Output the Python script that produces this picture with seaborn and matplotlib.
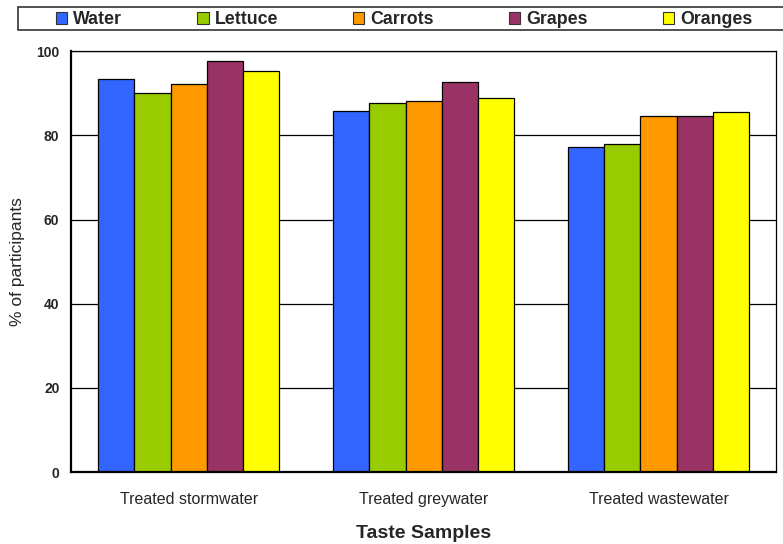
import pandas as pd
import numpy as np
import seaborn as sns
import matplotlib.pyplot as plt
from matplotlib.patches import Rectangle

# chart data
samples = ['Treated stormwater', 'Treated greywater', 'Treated wastewater']
foods = ['Water', 'Lettuce', 'Carrots', 'Grapes', 'Oranges']
water = [93.4, 85.8, 77.2]
lettuce = [90.1, 87.8, 77.9]
carrots = [92.3, 88.1, 84.5]
grapes = [97.6, 92.7, 84.5]
oranges = [95.4, 88.9, 85.5]
colors = ['#3366FF', '#99CC00', '#FF9900', '#993366', '#FFFF00']

# long dataframe for seaborn
rows = []
for food, vals in zip(foods, [water, lettuce, carrots, grapes, oranges]):
    for s, v in zip(samples, vals):
        rows.append({'sample': s, 'food': food, 'pct': v})
df = pd.DataFrame(rows)

sns.set_style('white')
plt.rcParams['font.family'] = ['Liberation Sans', 'DejaVu Sans']

fig = plt.figure(figsize=(7.83, 5.44), dpi=100)
ax = fig.add_axes([0.091, 0.132, 0.9, 0.774])

sns.barplot(data=df, x='sample', y='pct', hue='food', order=samples,
            hue_order=foods, palette=colors, saturation=1, width=0.77,
            edgecolor='black', linewidth=0.9, ax=ax, legend=False)

ax.set_ylim(0, 100)
ax.set_xlim(-0.5, 2.5)
ax.set_yticks(np.arange(0, 101, 20))
for y in range(20, 101, 20):
    ax.axhline(y, color='black', lw=0.9, zorder=0)

# category separator ticks like Excel
ax.set_xticks([-0.5, 0.5, 1.5, 2.5], minor=False)
ax.set_xticklabels([])
ax.set_xticks([0, 1, 2], minor=True)
ax.set_xticklabels(samples, minor=True, fontsize=11.5)
ax.tick_params(axis='x', which='major', length=5, width=0.9, direction='out', color='black')
ax.tick_params(axis='x', which='minor', length=0, pad=14)
ax.tick_params(axis='y', length=5, width=0.9, direction='out', color='black', labelsize=10)
for lbl in ax.get_yticklabels():
    lbl.set_fontweight('bold')

for side in ['left', 'bottom', 'right', 'top']:
    ax.spines[side].set_visible(True)
    ax.spines[side].set_color('black')
    ax.spines[side].set_linewidth(0.9)
ax.spines['left'].set_linewidth(1.6)
ax.spines['bottom'].set_linewidth(1.6)

ax.set_xlabel('Taste Samples', fontsize=14, fontweight='bold', labelpad=13)
ax.set_ylabel('% of participants', fontsize=12.5, labelpad=8)

# legend box across the top (runs off the right edge like the original)
fig.patches.append(Rectangle((17.5 / 783, 1 - 29.5 / 544), 800 / 783, 22.5 / 544,
                             transform=fig.transFigure, facecolor='white',
                             edgecolor='#333333', lw=1.2))
handles = [Rectangle((0, 0), 1, 1, facecolor=c, edgecolor='#333333', lw=0.8) for c in colors]
leg = fig.legend(handles, foods, loc='center left', ncol=5,
                 bbox_to_anchor=(55.5 / 783, 1 - 19.5 / 544),
                 frameon=False, borderpad=0, borderaxespad=0,
                 handlelength=0.65, handleheight=0.65, handletextpad=0.35,
                 columnspacing=4.2, prop={'weight': 'bold', 'size': 12.8})

fig.savefig('out.png', dpi=100)
